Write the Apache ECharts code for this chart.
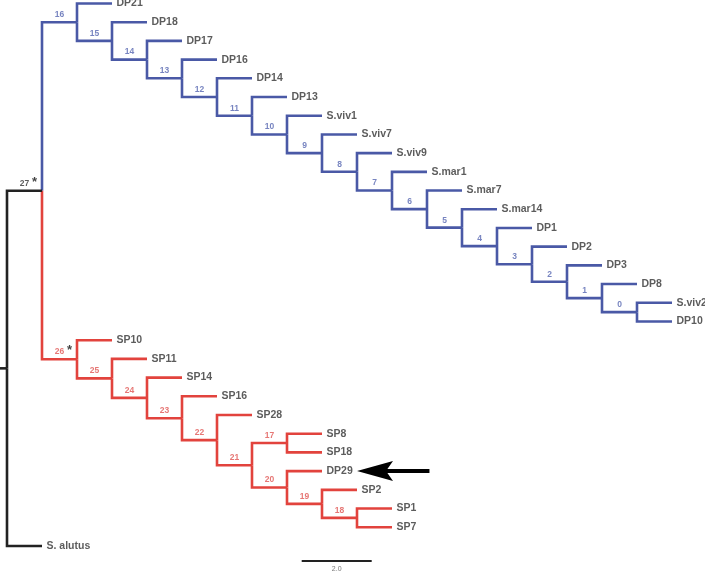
<!DOCTYPE html>
<html><head><meta charset="utf-8">
<script src="https://cdn.jsdelivr.net/npm/echarts@6/dist/echarts.min.js"></script>
<style>html,body{margin:0;padding:0;background:#fff}#c{width:705px;height:574px}</style>
</head><body><div id="c"></div>
<script>
// ---- data: tree topology (internal node -> [upper child, lower child]) ----
const internalNames = ['root','27','16','15','14','13','12','11','10','9','8','7','6','5','4','3','2','1','0',
                       '26','25','24','23','22','21','17','20','19','18'];
const internalChildren = [
  ['27','S. alutus'], ['16','26'],
  ['DP21','15'], ['DP18','14'], ['DP17','13'], ['DP16','12'], ['DP14','11'], ['DP13','10'],
  ['S.viv1','9'], ['S.viv7','8'], ['S.viv9','7'], ['S.mar1','6'], ['S.mar7','5'], ['S.mar14','4'],
  ['DP1','3'], ['DP2','2'], ['DP3','1'], ['DP8','0'], ['S.viv2','DP10'],
  ['SP10','25'], ['SP11','24'], ['SP14','23'], ['SP16','22'], ['SP28','21'], ['17','20'],
  ['SP8','SP18'], ['DP29','19'], ['SP2','18'], ['SP1','SP7']
];
const defaultBranchLength = 1.0;     // every branch in the figure spans one unit
const starredNodes = ['27', '26'];
const scaleBarLength = 2.0;
const scaleBarLabel = '2.0';
const arrowTarget = 'DP29';

// ---- styles ----
const BLUE = '#4a59a6', RED = '#e2433d', BLACK = '#222222';
const BLUE_TXT = '#5565b0', RED_TXT = '#e05552';
const cladeColors = { '16': [BLUE, BLUE_TXT], '26': [RED, RED_TXT] };
const FONT = 'Liberation Sans, Arial, sans-serif';

// ---- layout (x = cumulative branch length, y = leaf order) ----
const childMap = {};
internalNames.forEach((n, i) => childMap[n] = internalChildren[i]);
const pos = {}, parentOf = {}, colorOf = {};
let leafIdx = 0;
function layout(name, x, col) {
  if (cladeColors[name]) col = cladeColors[name];
  colorOf[name] = col;
  const ch = childMap[name];
  if (!ch) { pos[name] = [x, leafIdx++]; return; }
  ch.forEach(c => { parentOf[c] = name; layout(c, x + defaultBranchLength, col); });
  const ys = ch.map(c => pos[c][1]);
  pos[name] = [x, (Math.min(...ys) + Math.max(...ys)) / 2];
}
layout('root', 0, [BLACK, BLACK]);

const segs = [], leafPts = [], nodePts = [], starPts = [];
Object.keys(pos).forEach(n => {
  const [x, y] = pos[n];
  if (n === 'root') {
    segs.push({ coords: [[-0.2, y], [0, y]], lineStyle: { color: BLACK } });
    return;
  }
  const p = pos[parentOf[n]];
  segs.push({ coords: [[p[0], p[1]], [p[0], y], [x, y]], lineStyle: { color: colorOf[n][0] } });
  if (childMap[n]) {
    const txtCol = n === '27' ? '#333' : colorOf[n][1];
    nodePts.push({ value: [(p[0] + x) / 2, y], name: n, label: { color: txtCol } });
    if (starredNodes.includes(n)) {
      starPts.push({ value: [(p[0] + x) / 2, y], name: '*',
        label: { offset: n === '26' ? [10, -8.5] : [10, -8.5] } });
    }
  } else {
    leafPts.push({ value: [x, y], name: n });
  }
});
const tgt = pos[arrowTarget];
const scaleStart = 8.42, scaleY = pos['S. alutus'][1] + 0.8;

const chart = echarts.init(document.getElementById('c'), null, { renderer: 'canvas' });
chart.setOption({
  animation: false,
  backgroundColor: '#ffffff',
  grid: { left: 0, right: 33, top: 3.5, bottom: 0 },
  xAxis: { type: 'value', min: -0.2, max: 19, show: false },
  yAxis: { type: 'value', min: 0, max: 30.5, inverse: true, show: false },
  series: [
    {
      type: 'lines', coordinateSystem: 'cartesian2d', polyline: true, clip: false,
      lineStyle: { width: 2.6, opacity: 1, join: 'miter' },
      data: segs, silent: true, z: 2
    },
    {
      type: 'lines', coordinateSystem: 'cartesian2d', clip: false,
      lineStyle: { width: 2.2, color: BLACK, opacity: 1 },
      data: [{ coords: [[scaleStart, scaleY], [scaleStart + scaleBarLength, scaleY]] }], silent: true
    },
    {
      type: 'scatter', symbolSize: 0, clip: false, silent: true,
      data: [{ value: [scaleStart + scaleBarLength / 2, scaleY], name: scaleBarLabel }],
      label: { show: true, position: 'bottom', distance: 5, formatter: p => p.name,
        fontSize: 7, color: '#555', fontFamily: FONT }
    },
    {
      type: 'scatter', symbolSize: 0, clip: false, silent: true,
      data: leafPts,
      label: { show: true, position: 'right', distance: 4.5, formatter: p => p.name,
        fontSize: 10.5, fontWeight: 'bold', color: '#333', fontFamily: FONT }
    },
    {
      type: 'scatter', symbolSize: 0, clip: false, silent: true,
      data: nodePts,
      label: { show: true, position: 'top', distance: 3, formatter: p => p.name,
        fontSize: 8.5, fontWeight: 'bold', fontFamily: FONT }
    },
    {
      type: 'scatter', symbolSize: 0, clip: false, silent: true,
      data: starPts,
      label: { show: true, position: 'inside', formatter: p => p.name,
        fontSize: 13, fontWeight: 'bold', color: '#111', fontFamily: FONT }
    },
    {
      type: 'custom', coordinateSystem: 'cartesian2d', clip: false, silent: true,
      data: [[tgt[0] + 1.0, tgt[1], tgt[0] + 3.07]],
      renderItem: function (params, api) {
        const tip = api.coord([api.value(0), api.value(1)]);
        const tail = api.coord([api.value(2), api.value(1)]);
        const tx = tip[0], ty = tip[1];
        return {
          type: 'group',
          children: [
            { type: 'line', shape: { x1: tx + 28, y1: ty, x2: tail[0], y2: ty },
              style: { stroke: '#000', lineWidth: 4 } },
            { type: 'polygon', shape: { points: [[tx, ty], [tx + 36, ty - 10], [tx + 29, ty], [tx + 36, ty + 10]] },
              style: { fill: '#000' } }
          ]
        };
      }
    }
  ]
});
</script>
</body></html>
